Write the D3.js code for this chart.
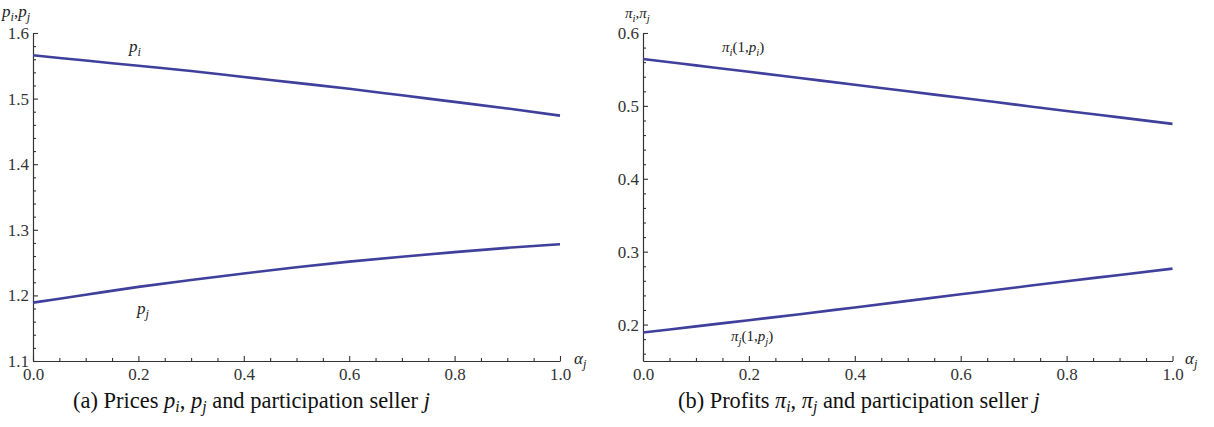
<!DOCTYPE html>
<html><head><meta charset="utf-8">
<script src="https://cdn.jsdelivr.net/npm/d3@7"></script>
<style>
body{margin:0;background:#fff;}
svg{display:block;}
</style></head>
<body>
<svg id="c" width="1214" height="427"></svg>
<script>
const alpha = [0,0.1,0.2,0.3,0.4,0.5,0.6,0.7,0.8,0.9,1.0];
const priceI = [1.566,1.558,1.550,1.542,1.533,1.524,1.515,1.505,1.495,1.485,1.474];
const priceJ = [1.189,1.201,1.213,1.2235,1.2335,1.243,1.2515,1.259,1.266,1.2725,1.278];
const profitI = [0.5644,0.5556,0.5468,0.5379,0.5290,0.5200,0.5111,0.5021,0.4931,0.4842,0.4753];
const profitJ = [0.189,0.1975,0.206,0.2145,0.2235,0.2325,0.2415,0.2505,0.2595,0.268,0.2767];
const xTicks = [0,0.2,0.4,0.6,0.8,1.0];
const yTicksA = [1.1,1.2,1.3,1.4,1.5,1.6];
const yTicksB = [0.2,0.3,0.4,0.5,0.6];

const SERIF = "'Liberation Serif'";
const svg = d3.select("#c");
const lineColor = "#3f3f9c";

function subText(g, x, y, parts, size, anchor){
  const t = g.append("text").attr("x",x).attr("y",y).style("font-size",size+"px").attr("fill","#222")
    .style("font-family",SERIF).attr("text-anchor",anchor||"start");
  parts.forEach(p=>{
    const s = t.append("tspan").text(p.t);
    if(p.italic) s.style("font-style","italic");
    if(p.sub){ s.style("font-size",(size*0.72)+"px").attr("dy",size*0.25); }
    else if(p.up){ s.attr("dy",-size*0.25); }
  });
  return t;
}

function panel(opts){
  const g = svg.append("g");
  const x = d3.scaleLinear().domain([0,1]).range([opts.x0, opts.x1]);
  const y = d3.scaleLinear().domain(opts.ydom).range([opts.yb, opts.yt]);
  const xMinor = d3.range(0,1.0001,0.05).filter(v=>Math.abs(v/0.2-Math.round(v/0.2))>1e-6);
  const yMinor = d3.range(Math.ceil(opts.ydom[0]/0.02-1e-6)*0.02, opts.ydom[1]+1e-6, 0.02)
      .filter(v=>Math.abs(v/0.1-Math.round(v/0.1))>1e-6 && v>opts.ydom[0]+1e-6);
  g.append("g").attr("transform",`translate(0,${opts.yb})`)
    .call(d3.axisBottom(x).tickValues(xTicks).tickFormat(d3.format(".1f")).tickSize(-5).tickSizeOuter(0).tickPadding(7));
  g.append("g").attr("transform",`translate(0,${opts.yb})`)
    .call(d3.axisBottom(x).tickValues(xMinor).tickFormat("").tickSize(-3).tickSizeOuter(0))
    .select(".domain").remove();
  g.append("g").attr("transform",`translate(${opts.x0},0)`)
    .call(d3.axisLeft(y).tickValues(opts.yticks).tickFormat(d3.format(".1f")).tickSize(-5).tickSizeOuter(0).tickPadding(4));
  g.append("g").attr("transform",`translate(${opts.x0},0)`)
    .call(d3.axisLeft(y).tickValues(yMinor).tickFormat("").tickSize(-3).tickSizeOuter(0))
    .select(".domain").remove();
  g.selectAll("g").attr("font-family",null).attr("font-size",null);
  g.selectAll(".domain").attr("stroke","#333").attr("stroke-width",1.2);
  g.selectAll(".tick line").attr("stroke","#333").attr("stroke-width",1.1);
  g.selectAll(".tick text").style("font-size","17px").attr("fill","#333").style("font-family",SERIF);
  const line = d3.line().x((d,i)=>x(alpha[i])).y(d=>y(d)).curve(d3.curveMonotoneX);
  [opts.s1, opts.s2].forEach(s=>{
    g.append("path").datum(s).attr("d",line).attr("fill","none")
      .attr("stroke",lineColor).attr("stroke-width",2.6);
  });
  return {g,x,y};
}

const A = panel({x0:33,x1:560,yb:361,yt:33,ydom:[1.1,1.6],yticks:yTicksA,s1:priceI,s2:priceJ});
const B = panel({x0:643,x1:1172.5,yb:361,yt:33,ydom:[0.15,0.6],yticks:yTicksB,s1:profitI,s2:profitJ});

// axis labels
subText(A.g, 2, 17, [{t:"p",italic:true},{t:"i",italic:true,sub:true},{t:",",up:true},{t:"p",italic:true},{t:"j",italic:true,sub:true}], 17);
subText(A.g, 574, 364, [{t:"α",italic:true},{t:"j",italic:true,sub:true}], 17);
subText(A.g, 129, 52, [{t:"p",italic:true},{t:"i",italic:true,sub:true}], 17);
subText(A.g, 137, 314, [{t:"p",italic:true},{t:"j",italic:true,sub:true}], 17);

subText(B.g, 625, 18, [{t:"π",italic:true},{t:"i",italic:true,sub:true},{t:",",up:true},{t:"π",italic:true},{t:"j",italic:true,sub:true}], 15);
subText(B.g, 1185, 364, [{t:"α",italic:true},{t:"j",italic:true,sub:true}], 17);
subText(B.g, 722, 52, [{t:"π",italic:true},{t:"i",italic:true,sub:true},{t:"(1,",up:true},{t:"p",italic:true},{t:"i",italic:true,sub:true},{t:")",up:true}], 15);
subText(B.g, 731, 341, [{t:"π",italic:true},{t:"j",italic:true,sub:true},{t:"(1,",up:true},{t:"p",italic:true},{t:"j",italic:true,sub:true},{t:")",up:true}], 15);

// captions
function caption(x0, x1, parts){
  const size = 18;
  const t = svg.append("text").attr("x",x0).attr("y",408).style("font-size",size+"px")
    .attr("fill","#111").style("font-family",SERIF);
  const subs = [];
  parts.forEach(p=>{
    const s = t.append("tspan").text(p.t);
    if(p.italic) s.style("font-style","italic");
    if(p.sub){ s.style("font-size",(size*0.7)+"px").attr("dy",4); subs.push(s); }
    if(p.up) s.attr("dy",-4);
  });
  const w = t.node().getComputedTextLength();
  const k = (x1-x0)/w;
  t.style("font-size",(size*k)+"px");
  subs.forEach(s=>s.style("font-size",(size*0.7*k)+"px"));
}
caption(73, 430, [{t:"(a) Prices "},{t:"p",italic:true},{t:"i",italic:true,sub:true},{t:", ",up:true},{t:"p",italic:true},{t:"j",italic:true,sub:true},{t:" and participation seller ",up:true},{t:"j",italic:true}]);
caption(678, 1040, [{t:"(b) Profits "},{t:"π",italic:true},{t:"i",italic:true,sub:true},{t:", ",up:true},{t:"π",italic:true},{t:"j",italic:true,sub:true},{t:" and participation seller ",up:true},{t:"j",italic:true}]);
</script>
</body></html>
